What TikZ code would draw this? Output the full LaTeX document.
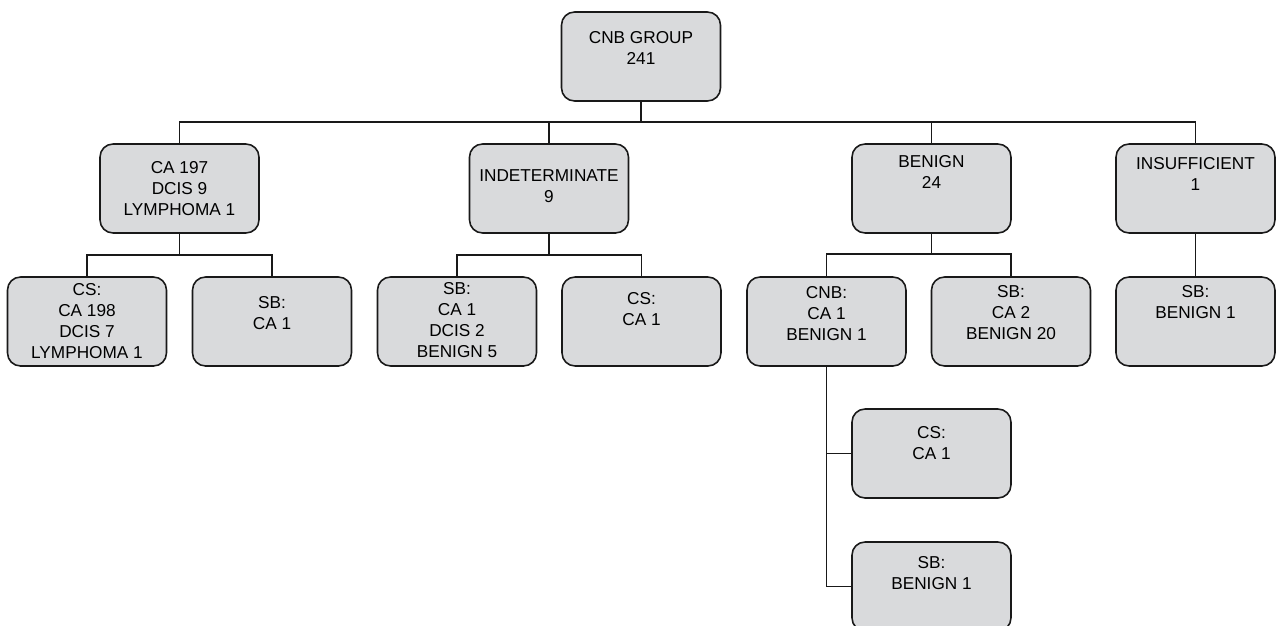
\documentclass[tikz,border=0pt]{standalone}
\usepackage{fontspec}
\setmainfont{Liberation Sans}
\usetikzlibrary{positioning, calc}
\definecolor{boxgray}{RGB}{217,218,220}
\tikzset{
    chartbox/.style={draw=black!90, fill=boxgray, line width=0.9pt,
        rounded corners=0.26cm, minimum width=3.18cm, minimum height=1.78cm,
        inner sep=0pt},
    charttext/.style={anchor=north, inner sep=0pt, align=center,
        font=\fontsize{9.8}{12}\selectfont},
    link/.style={draw=black!90, line width=1pt}
}
\begin{document}
\begin{tikzpicture}[x=0.02cm, y=-0.02cm]
    \useasboundingbox (0,0) rectangle (1276,626);

    % boxes: name / x / y / text offset / text
    \foreach \name/\px/\py/\off/\txt in {
        cnb/641/56.5/20/{CNB GROUP\\241},
        ca/179.5/188.5/18/{CA 197\\DCIS 9\\LYMPHOMA 1},
        indet/549/188.5/26/{INDETERMINATE\\9},
        benign/931.5/188.5/12/{BENIGN\\24},
        insuff/1195.5/188.5/14/{INSUFFICIENT\\1},
        csA/87/321.5/7/{CS:\\CA 198\\DCIS 7\\LYMPHOMA 1},
        sbA/272/321.5/20/{SB:\\CA 1},
        sbB/457/321.5/6/{SB:\\CA 1\\DCIS 2\\BENIGN 5},
        csB/641.5/321.5/16/{CS:\\CA 1},
        cnbB/826.5/321.5/10/{CNB:\\CA 1\\BENIGN 1},
        sbC/1011/321.5/9/{SB:\\CA 2\\BENIGN 20},
        sbD/1195.5/321.5/9/{SB:\\BENIGN 1},
        csC/931.5/453.5/18/{CS:\\CA 1},
        sbE/931.5/586.5/15/{SB:\\BENIGN 1}}{

        \node[chartbox] (\name) at (\px,\py) {};
        \node[charttext] (\name-txt) at ($(\name.north)+(0,\off)$) {\txt};
    }

    % bars
    \coordinate (top-bar) at (0,122);
    \coordinate (ca-bar) at (0,255);
    \coordinate (indet-bar) at (0,255);
    \coordinate (benign-bar) at (0,254);

    % first level
    \foreach \c in {ca,indet,benign,insuff}
    {
        \draw[link] (cnb.south) -- (cnb.south |- top-bar) -| (\c.north);
    }

    % second level
    \foreach \c in {csA,sbA}
    {
        \draw[link] (ca.south) -- (ca.south |- ca-bar) -| (\c.north);
    }
    \foreach \c in {sbB,csB}
    {
        \draw[link] (indet.south) -- (indet.south |- indet-bar) -| (\c.north);
    }
    \foreach \c in {cnbB,sbC}
    {
        \draw[link] (benign.south) -- (benign.south |- benign-bar) -| (\c.north);
    }
    \draw[link] (insuff.south) -- (sbD.north);

    % third level
    \draw[link] (cnbB.south) |- (csC.west);
    \draw[link] (cnbB.south) |- (sbE.west);
\end{tikzpicture}
\end{document}
